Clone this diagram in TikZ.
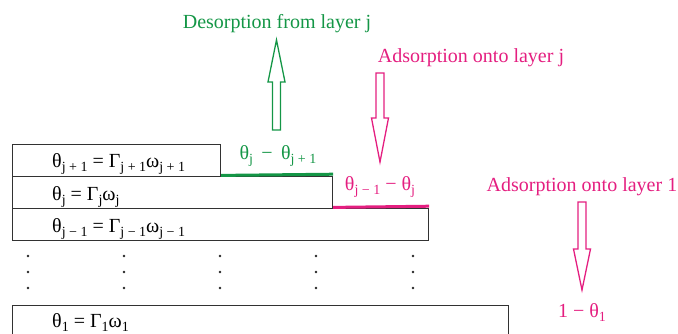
\documentclass[tikz,border=0pt]{standalone}
\usepackage{fontspec}
\setmainfont{Liberation Serif}
\definecolor{desgreen}{RGB}{20,150,70}
\definecolor{adspink}{RGB}{228,30,128}
\definecolor{edge}{RGB}{50,50,50}
% lowered, smaller index in the Times-like style of the labels
\newcommand\lsub[1]{\raisebox{-0.22em}{\fontsize{14}{14}\selectfont #1}}
\begin{document}
\begin{tikzpicture}[x=1pt,y=-1pt,
  layer/.style={draw=edge, line width=1.2pt, anchor=north west, inner sep=0pt},
  eqn/.style={anchor=base west, inner sep=0pt, font=\fontsize{20}{24}\selectfont},
  lbl/.style={anchor=base, inner sep=0pt, font=\fontsize{20}{24}\selectfont},
  gline/.style={desgreen, line width=3pt},
  pline/.style={adspink, line width=3pt},
  garrow/.style={draw=desgreen, line width=1.3pt, line join=miter},
  parrow/.style={draw=adspink, line width=1.3pt, line join=miter},
  dot/.style={fill=black!85}]
\useasboundingbox (0,0) rectangle (678,333);
\clip (0,0) rectangle (678,333);

% stacked adsorbed layers
\node[layer, minimum width=208pt, minimum height=32pt] (L1) at (12,144) {};
\node[layer, minimum width=320pt, minimum height=32pt] (L2) at (12,176) {};
\node[layer, minimum width=416pt, minimum height=32pt] (L3) at (12,208) {};
\node[layer, minimum width=496pt, minimum height=34pt] (L4) at (12,305) {};

\node[eqn] (e1) at (52,167) {θ\lsub{j + 1} = Γ\lsub{j + 1}ω\lsub{j + 1}};
\node[eqn] (e2) at (52,200) {θ\lsub{j} = Γ\lsub{j}ω\lsub{j}};
\node[eqn] (e3) at (52,232) {θ\lsub{j − 1} = Γ\lsub{j − 1}ω\lsub{j − 1}};
\node[eqn] (e4) at (52,327) {θ\lsub{1} = Γ\lsub{1}ω\lsub{1}};

% exposed surface of each layer
\draw[gline] ([yshift=1.8pt]L1.south east) -- ([yshift=1.8pt]L2.north east);
\draw[pline] ([yshift=1.8pt]L2.south east) -- ([yshift=1.8pt]L3.north east);

% intermediate layers
\foreach \x in {28,124,220,316,413}
  \foreach \y in {256,272,288}
    \fill[dot] (\x,\y) circle (1.35pt);

% exposed fractions
\node[lbl, text=desgreen] (fj) at (278,159) {θ\lsub{j} \,−\, θ\lsub{j + 1}};
\node[lbl, text=adspink] (fjm) at (380,190) {θ\lsub{j − 1} − θ\lsub{j}};
\node[lbl, text=adspink] (f1) at (582,317) {1 − θ\lsub{1}};

% process labels
\node[lbl, text=desgreen] (des) at (277,28) {Desorption from layer j};
\node[lbl, text=adspink] (adsj) at (471,62) {Adsorption onto layer j};
\node[lbl, text=adspink] (ads1) at (582,191) {Adsorption onto layer 1};

% hollow block arrows
\draw[garrow] (272.5,130) -- (272.5,82) -- (268,82) -- (276.5,40) -- (285,82) -- (280.5,82) -- (280.5,130) -- cycle;
\draw[parrow] (376,73) -- (376,118) -- (371.5,118) -- (380,162) -- (388.5,118) -- (384,118) -- (384,73) -- cycle;
\draw[parrow] (578,202) -- (578,249) -- (573.5,249) -- (582,290) -- (590.5,249) -- (586,249) -- (586,202) -- cycle;
\end{tikzpicture}
\end{document}
